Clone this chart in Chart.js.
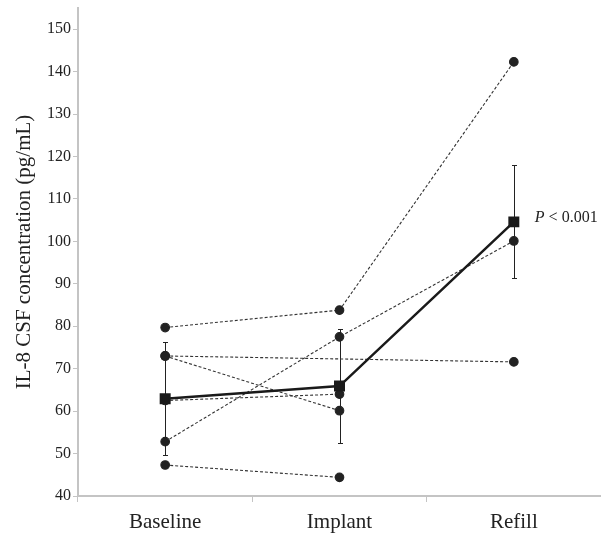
<!DOCTYPE html>
<html>
<head>
<meta charset="utf-8">
<script src="https://cdn.jsdelivr.net/npm/chart.js@4.4.1/dist/chart.umd.min.js"></script>
<style>
  body { margin: 0; background: #fff; }
  #wrap { width: 601px; height: 536px; position: relative; }
</style>
</head>
<body>
<div id="wrap"><canvas id="chart"></canvas></div>
<script>
// ---------- data ----------
const categories = ['Baseline', 'Implant', 'Refill'];
const yTicks = [40, 50, 60, 70, 80, 90, 100, 110, 120, 130, 140, 150];

const meanValues = [62.9, 65.9, 104.6];
const errUpper = [76.4, 79.3, 118.0];
const errLower = [49.6, 52.6, 91.3];

const subject1 = [79.7, 83.8, 142.3];
const subject2 = [73.0, null, 71.6];
const subject3 = [73.0, 60.1, null];
const subject4 = [62.5, 64.0, null];
const subject5 = [52.8, 77.5, 100.1];
const subject6 = [47.3, 44.4, null];

const pLabel = '< 0.001';

const serif = '"Liberation Serif", "Times New Roman", serif';
const axisGray = '#c4c4c4';

const subjectDataset = (data, span) => ({
    data: data,
    borderColor: '#333',
    borderWidth: 1.1,
    borderDash: [3, 2],
    pointBackgroundColor: '#222',
    pointBorderColor: '#222',
    pointRadius: 4.3,
    pointStyle: 'circle',
    spanGaps: span,
    order: 2
})

// error bars + P value label
const extrasPlugin = {
    id: 'extras',
    beforeDatasetsDraw(chart) {
        const {ctx, scales: {x, y}} = chart;
        ctx.save();
        ctx.strokeStyle = '#222';
        ctx.lineWidth = 1;
        errUpper.forEach((hi, i) => {
            const px = Math.round(x.getPixelForValue(i)) + 0.5;
            const top = Math.round(y.getPixelForValue(hi)) + 0.5;
            const bot = Math.round(y.getPixelForValue(errLower[i])) + 0.5;
            ctx.beginPath();
            ctx.moveTo(px, top); ctx.lineTo(px, bot);
            ctx.moveTo(px - 2.5, top); ctx.lineTo(px + 2.5, top);
            ctx.moveTo(px - 2.5, bot); ctx.lineTo(px + 2.5, bot);
            ctx.stroke();
        });
        ctx.restore();
    },
    afterDatasetsDraw(chart) {
        const {ctx, scales: {x, y}} = chart;
        const last = meanValues.length - 1;
        const px = x.getPixelForValue(last) + 21;
        const py = y.getPixelForValue(meanValues[last]) - 4;
        ctx.save();
        ctx.fillStyle = '#222';
        ctx.textBaseline = 'middle';
        ctx.font = 'italic 16px ' + serif;
        ctx.fillText('P', px, py);
        const w = ctx.measureText('P ').width;
        ctx.font = '16px ' + serif;
        ctx.fillText(pLabel, px + w, py);
        ctx.restore();
    }
}

new Chart(document.getElementById('chart'), {
    type: 'line',
    data: {
        labels: categories,
        datasets: [
            {
                data: meanValues,
                borderColor: '#1a1a1a',
                borderWidth: 2.5,
                pointStyle: 'rect',
                pointRadius: 6,
                pointBackgroundColor: '#1a1a1a',
                pointBorderColor: '#1a1a1a',
                order: 1
            },
            subjectDataset(subject1, false),
            subjectDataset(subject2, true),
            subjectDataset(subject3, false),
            subjectDataset(subject4, false),
            subjectDataset(subject5, false),
            subjectDataset(subject6, false)
        ]
    },
    options: {
        responsive: true, maintainAspectRatio: false, animation: false,
        devicePixelRatio: 1,
        layout: {autoPadding: false, padding: {top: 8, right: 0, left: 0, bottom: 0}},
        plugins: {legend: {display: false}, tooltip: {enabled: false}},
        scales: {
            x: {
                offset: true,
                grid: {offset: true, drawOnChartArea: false, color: axisGray, tickLength: 6, lineWidth: 1},
                border: {color: axisGray, width: 2},
                ticks: {color: '#222', font: {family: serif, size: 21}, padding: 8},
                afterFit: (s) => { s.height = 40; s.paddingLeft = 0; s.paddingRight = 0 }
            },
            y: {
                min: 40, max: 155,
                grid: {drawOnChartArea: false, color: axisGray, tickLength: 5},
                border: {color: axisGray, width: 2},
                afterBuildTicks: (s) => { s.ticks = yTicks.map((v) => ({value: v})) },
                ticks: {color: '#222', font: {family: serif, size: 16}, padding: 2},
                title: {
                    display: true,
                    text: 'IL-8 CSF concentration (pg/mL)',
                    color: '#222',
                    font: {family: serif, size: 21},
                    padding: {top: 12, bottom: 0}
                },
                afterFit: (s) => { s.width = 78; s.paddingTop = 0; s.paddingBottom = 0 }
            }
        }
    },
    plugins: [extrasPlugin]
});
</script>
</body>
</html>
